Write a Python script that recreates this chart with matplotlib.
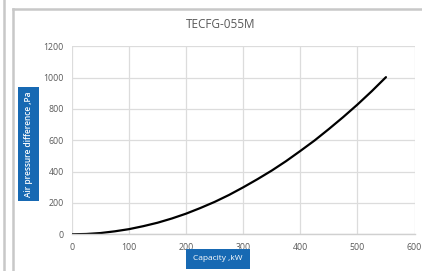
import matplotlib
matplotlib.use("Agg")
import matplotlib.pyplot as plt
from matplotlib.patches import Rectangle
from matplotlib.lines import Line2D

capacity_kw = [0, 25, 50, 75, 100, 125, 150, 175, 200, 225, 250, 275, 300,
               325, 350, 375, 400, 425, 450, 475, 500, 525, 550]
pressure_pa = [0, 2, 8, 19, 33, 52, 74, 101, 132, 168, 207, 251, 300,
               352, 407, 467, 532, 599, 672, 748, 828, 913, 1003]
x_ticks = [0, 100, 200, 300, 400, 500, 600]
y_ticks = [0, 200, 400, 600, 800, 1000, 1200]
title = "TECFG-055M"
xlabel = "Capacity ,kW"
ylabel = "Air pressure difference ,Pa"

W, H = 422, 271
fig = plt.figure(figsize=(W / 100, H / 100), dpi=100)
plt.rcParams['font.family'] = ['Open Sans', 'DejaVu Sans']

def fx(px):
    return px / W

def fy(py):
    return 1 - py / H

ax = fig.add_axes([fx(72), fy(234.3), fx(414.5) - fx(72), fy(46.3) - fy(234.3)])
ax.plot(capacity_kw, pressure_pa, color="black", lw=1.6, solid_capstyle="round",
        solid_joinstyle="round")
ax.set_xlim(0, 600)
ax.set_ylim(0, 1200)
ax.set_xticks(x_ticks)
ax.set_yticks(y_ticks)
ax.grid(True, color="#dcdcdc", lw=0.9)
ax.set_axisbelow(True)
for s in ["top", "right", "left"]:
    ax.spines[s].set_visible(False)
ax.spines["bottom"].set_color("#d0d0d0")
ax.spines["bottom"].set_linewidth(1.0)
ax.tick_params(length=0, labelsize=6.3, colors="#595959", pad=6)

# title
fig.text(fx(221), fy(24), title, ha="center", va="center", fontsize=8.5, color="#595959")

# borders
gray = "#c8c8c8"
fig.add_artist(Line2D([fx(4), fx(4)], [0, 1], color=gray, lw=1.8, transform=fig.transFigure))
fig.add_artist(Line2D([fx(13), fx(13)], [0, fy(8.5)], color=gray, lw=1.8, transform=fig.transFigure))
fig.add_artist(Line2D([fx(13), 1], [fy(8.5), fy(8.5)], color=gray, lw=1.8, transform=fig.transFigure))

blue = "#1769b3"
# y label box
fig.add_artist(Rectangle((fx(18), fy(201)), fx(39) - fx(18), fy(87) - fy(201), transform=fig.transFigure,
                         facecolor=blue, edgecolor="none"))
fig.text(fx(28.5), fy(144), ylabel, rotation=90, ha="center", va="center", fontsize=6,
         color="white", fontweight="semibold")
# x label box
fig.add_artist(Rectangle((fx(186), fy(269)), fx(250) - fx(186), fy(249) - fy(269), transform=fig.transFigure,
                         facecolor=blue, edgecolor="none"))
fig.text(fx(218), fy(259), xlabel, ha="center", va="center", fontsize=6, color="white")

fig.savefig("out.png", dpi=100)
